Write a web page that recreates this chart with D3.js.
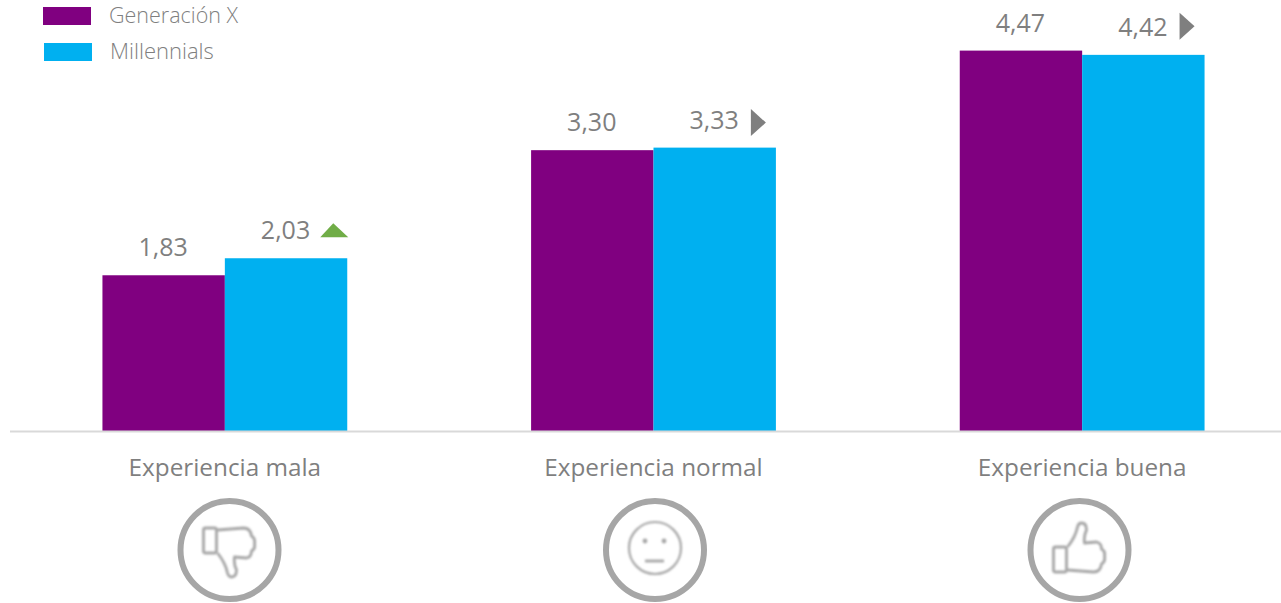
<!DOCTYPE html>
<html><head><meta charset="utf-8">
<script src="https://cdn.jsdelivr.net/npm/d3@7"></script>
<style>html,body{margin:0;padding:0;background:#fff;overflow:hidden}svg{display:block}text{font-family:"Open Sans",sans-serif;fill:#7f7f7f}</style>
</head><body><div id="chart"></div>
<script>
const categories = ["Experiencia mala","Experiencia normal","Experiencia buena"];
const seriesNames = ["Generación X","Millennials"];
const generacionX = [1.83,3.30,4.47];
const millennials = [2.03,3.33,4.42];
const trends = ["up","flat","flat"];
const icons = ["down","neutral","up"];
const colors = ["#800080","#00b0f0"];

const W=1281,H=603,base=431;
const svg=d3.select("#chart").append("svg").attr("width",W).attr("height",H);
const x=d3.scaleBand().domain(categories).range([10.5,1296.5]).paddingInner(0.4289).paddingOuter(0.2145);
const y=d3.scaleLinear().domain([0,5]).range([base,base-425.5]);
const fmt=v=>d3.format(".2f")(v).replace(".",",");
const xs=d3.scaleBand().domain(seriesNames).range([0,x.bandwidth()]);
const series=[generacionX,millennials];

series.forEach((vals,s)=>{
  const g=svg.append("g");
  g.selectAll("rect").data(vals).join("rect")
    .attr("x",(d,i)=>x(categories[i])+xs(seriesNames[s]))
    .attr("y",d=>y(d)).attr("width",xs.bandwidth()).attr("height",d=>base-y(d)).attr("fill",colors[s]);
  g.selectAll("text").data(vals).join("text")
    .attr("x",(d,i)=>x(categories[i])+xs(seriesNames[s])+xs.bandwidth()/2-0.5)
    .attr("y",d=>y(d)-19).attr("text-anchor","middle").attr("font-size",25).text(fmt);
});

// trend markers
const markerLift=[0,25,28.5];
millennials.forEach((v,i)=>{
  const right=x(categories[i])+x.bandwidth();
  const top=y(v);
  if(trends[i]==="up"){
    svg.append("path").attr("d",d3.line()([[right-27,top-21],[right-14,top-35],[right+1,top-21]])+"Z").attr("fill","#70ad47");
  }else{
    const c=top-markerLift[i];
    svg.append("path").attr("d",d3.line()([[right-25,c-13.5],[right-25,c+13.5],[right-10,c]])+"Z").attr("fill","#7f7f7f");
  }
});

// axis
svg.append("line").attr("x1",10).attr("x2",W).attr("y1",base+0.5).attr("y2",base+0.5).attr("stroke","#d9d9d9").attr("stroke-width",2);
const axisG=svg.append("g").attr("transform",`translate(0,${base})`)
  .call(d3.axisBottom(x).tickSize(0).tickPadding(28));
axisG.select(".domain").remove();
axisG.selectAll("text").attr("font-size",24.3).attr("fill","#7f7f7f").style("font-family",'"Open Sans",sans-serif');

// legend
seriesNames.forEach((n,i)=>{
  const ly=[7,43][i], lx=[43,44][i];
  svg.append("rect").attr("x",lx).attr("y",ly).attr("width",48).attr("height",18).attr("fill",colors[i]);
  svg.append("text").attr("x",[109,110][i]).attr("y",ly+16).attr("font-size",[21.5,22][i]).attr("font-weight",300).text(n);
});

// icons
const thumb="M-12,-18 L14,-20 Q21,-20 22,-12 Q26,-10 25,-4 Q26,1 22,3 Q22,9 17,10 L5,9 Q4,16 7,22 Q7,29 2,29 Q-1,29 -2,25 Q-4,15 -12,5";
const ringX=[229.5,655,1079.5], ringY=550;
icons.forEach((ic,i)=>{
  const g=svg.append("g").attr("transform",`translate(${ringX[i]},${ringY})`);
  g.append("circle").attr("r",49).attr("fill","none").attr("stroke","#a6a6a6").attr("stroke-width",6);
  const ig=g.append("g").style("filter","blur(0.8px)").attr("fill","none").attr("stroke","#a6a6a6").attr("stroke-width",2.8).attr("stroke-linejoin","round");
  if(ic==="neutral"){
    ig.append("circle").attr("cy",-2).attr("r",26).attr("stroke-width",2.2);
    ig.append("circle").attr("cx",-10).attr("cy",-9).attr("r",2.4).attr("fill","#a6a6a6").attr("stroke","none");
    ig.append("circle").attr("cx",9).attr("cy",-9).attr("r",2.4).attr("fill","#a6a6a6").attr("stroke","none");
    ig.append("line").attr("x1",-10).attr("x2",9).attr("y1",11).attr("y2",11);
  }else{
    const t=ic==="down"?"translate(0,-2)":"translate(0,2) scale(1,-1)";
    const h=ig.append("g").attr("transform",t);
    h.append("rect").attr("x",-26).attr("y",-20).attr("width",13).attr("height",25).attr("rx",2);
    h.append("path").attr("d",thumb);
  }
});
</script></body></html>
